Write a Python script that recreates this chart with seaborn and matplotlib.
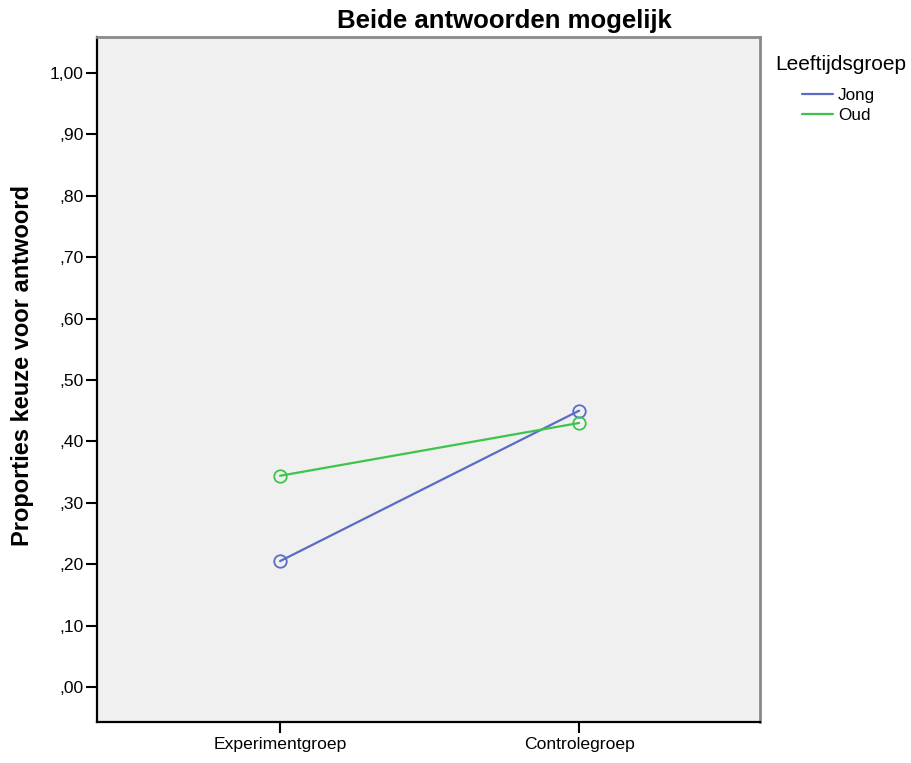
import pandas as pd
import numpy as np
import seaborn as sns
import matplotlib.pyplot as plt
from matplotlib.ticker import FuncFormatter

# Gegevens
groepen = ["Experimentgroep", "Controlegroep"]
leeftijd = ["Jong", "Oud"]
jong_waarden = [0.205, 0.450]
oud_waarden = [0.344, 0.430]
kleuren = {"Jong": "#5a6cc4", "Oud": "#3dc44d"}

df = pd.DataFrame({
    "Groep": groepen * 2,
    "Leeftijdsgroep": ["Jong"] * 2 + ["Oud"] * 2,
    "Proportie": jong_waarden + oud_waarden,
})

sns.set_style("white")
plt.rcParams["font.family"] = ["Liberation Sans", "DejaVu Sans"]
plt.rcParams["text.color"] = "black"

W, H = 911, 763
fig = plt.figure(figsize=(W / 100, H / 100), dpi=100)
ax = fig.add_axes([97 / W, 1 - 722 / H, 663 / W, 685 / H])
ax.set_facecolor("#f0f0f0")

sns.lineplot(data=df, x="Groep", y="Proportie", hue="Leeftijdsgroep",
             hue_order=leeftijd, palette=kleuren, marker="o", markersize=9,
             markerfacecolor="none", markeredgewidth=1.3, linewidth=1.6,
             ax=ax)
for lijn, naam in zip(ax.lines, leeftijd):
    lijn.set_markeredgecolor(kleuren[naam])

ax.set_xlim(-0.612, 1.605)
ax.set_ylim(-0.057, 1.0586)
ax.set_yticks(np.arange(0, 1.01, 0.1))


def komma(v, p):
    s = f"{v:.2f}".replace(".", ",")
    return s[1:] if s.startswith("0") else s


ax.yaxis.set_major_formatter(FuncFormatter(komma))

for kant in ["top", "right"]:
    ax.spines[kant].set_color("#8a8a8a")
    ax.spines[kant].set_linewidth(2)
for kant in ["left", "bottom"]:
    ax.spines[kant].set_color("black")
    ax.spines[kant].set_linewidth(1.6)

ax.tick_params(axis="both", direction="out", length=8, width=1.5, color="black",
               labelsize=12.6, labelcolor="black", left=True, bottom=True)
ax.tick_params(axis="y", pad=1.5)
ax.tick_params(axis="x", pad=2.5)

ax.set_xlabel("")
ax.set_ylabel("")
fig.text(504 / W, 1 - 21 / H, "Beide antwoorden mogelijk", fontsize=18.5,
         fontweight="bold", ha="center", va="center")
fig.text(23 / W, 1 - 366 / H, "Proporties keuze voor antwoord", fontsize=17,
         fontweight="bold", rotation=90, ha="center", va="center")

# legenda: titel los, items ingesprongen
fig.text(775 / W, 1 - 64 / H, "Leeftijdsgroep", fontsize=15, ha="left", va="center")
handles, labels = ax.get_legend_handles_labels()
for h in handles:
    h.set_marker("")
leg = ax.legend(handles, labels, loc="upper left",
                bbox_to_anchor=(802 / W, 1 - 88 / H), bbox_transform=fig.transFigure,
                frameon=False, fontsize=12.3, handlelength=1.8, handletextpad=0.3,
                labelspacing=0.32, borderaxespad=0, borderpad=0)

fig.savefig("out.png", dpi=100)
